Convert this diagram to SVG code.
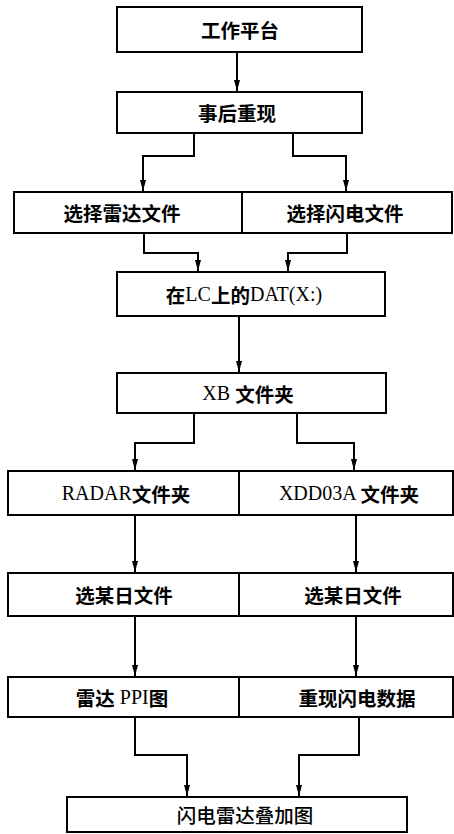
<svg xmlns="http://www.w3.org/2000/svg" width="454" height="834" viewBox="0 0 454 834">
<style>
.box{fill:#fff;stroke:#000;stroke-width:2}
.lbl{font-family:"Liberation Serif","Noto Sans CJK SC",serif;font-size:20px;fill:#000;text-anchor:middle;dominant-baseline:central}
.cj{font-family:"Noto Sans CJK SC",sans-serif;font-weight:bold;font-size:19.5px}
.cm{font-family:"Noto Sans CJK SC",sans-serif;font-weight:500;font-size:19.5px}
.conn{fill:none;stroke:#000;stroke-width:2}
</style>
<defs>
<marker id="ah" viewBox="0 0 10 10" refX="10" refY="5" markerWidth="11" markerHeight="6" orient="auto" markerUnits="userSpaceOnUse" preserveAspectRatio="none">
<path d="M0,0 L10,5 L0,10 z" fill="#000"/>
</marker>
</defs>
<rect width="454" height="834" fill="#fff"/>
<g id="connectors">
<path class="conn" d="M237,52 V91" marker-end="url(#ah)"/>
<path class="conn" d="M194,133 V156 H143 V191" marker-end="url(#ah)"/>
<path class="conn" d="M293,133 V156 H346 V191" marker-end="url(#ah)"/>
<path class="conn" d="M144,233 V253 H198 V271" marker-end="url(#ah)"/>
<path class="conn" d="M347,233 V253 H288 V271" marker-end="url(#ah)"/>
<path class="conn" d="M239,316 V372" marker-end="url(#ah)"/>
<path class="conn" d="M194,413 V443 H135 V470" marker-end="url(#ah)"/>
<path class="conn" d="M297,413 V443 H354 V470" marker-end="url(#ah)"/>
<path class="conn" d="M135,515 V572" marker-end="url(#ah)"/>
<path class="conn" d="M356,515 V572" marker-end="url(#ah)"/>
<path class="conn" d="M135,616 V676" marker-end="url(#ah)"/>
<path class="conn" d="M356,616 V676" marker-end="url(#ah)"/>
<path class="conn" d="M135,717 V755 H187 V796" marker-end="url(#ah)"/>
<path class="conn" d="M359,717 V755 H299 V796" marker-end="url(#ah)"/>
</g>
<g id="n1"><rect class="box" x="117" y="7" width="245" height="45"/><text class="lbl cj" x="240" y="29.5">工作平台</text></g>
<g id="n2"><rect class="box" x="117" y="92" width="245" height="41"/><text class="lbl cj" x="237" y="112.5">事后重现</text></g>
<g id="n3"><rect class="box" x="14" y="192" width="228" height="41"/><text class="lbl cj" x="122" y="212.5">选择雷达文件</text></g>
<g id="n4"><rect class="box" x="242" y="192" width="210" height="41"/><text class="lbl cj" x="345" y="212.5">选择闪电文件</text></g>
<g id="n5"><rect class="box" x="117" y="272" width="268" height="44"/><text class="lbl" x="244" y="294"><tspan class="cj">在</tspan>LC<tspan class="cj">上的</tspan>DAT(X:)</text></g>
<g id="n6"><rect class="box" x="117" y="373" width="269" height="40"/><text class="lbl" x="248" y="393">XB <tspan class="cj">文件夹</tspan></text></g>
<g id="n7"><rect class="box" x="8" y="471" width="231" height="44"/><text class="lbl" x="126" y="493">RADAR<tspan class="cj">文件夹</tspan></text></g>
<g id="n8"><rect class="box" x="239" y="471" width="214" height="44"/><text class="lbl" x="349" y="493">XDD03A <tspan class="cj">文件夹</tspan></text></g>
<g id="n9"><rect class="box" x="8" y="573" width="231" height="43"/><text class="lbl cj" x="124" y="594.5">选某日文件</text></g>
<g id="n10"><rect class="box" x="239" y="573" width="214" height="43"/><text class="lbl cj" x="353" y="594.5">选某日文件</text></g>
<g id="n11"><rect class="box" x="8" y="677" width="231" height="40"/><text class="lbl" x="122" y="697"><tspan class="cj">雷达</tspan> PPI<tspan class="cj">图</tspan></text></g>
<g id="n12"><rect class="box" x="239" y="677" width="214" height="40"/><text class="lbl cj" x="357" y="697">重现闪电数据</text></g>
<g id="n13"><rect class="box" x="67" y="797" width="340" height="35"/><text class="lbl cm" x="245" y="814.5">闪电雷达叠加图</text></g>
</svg>
